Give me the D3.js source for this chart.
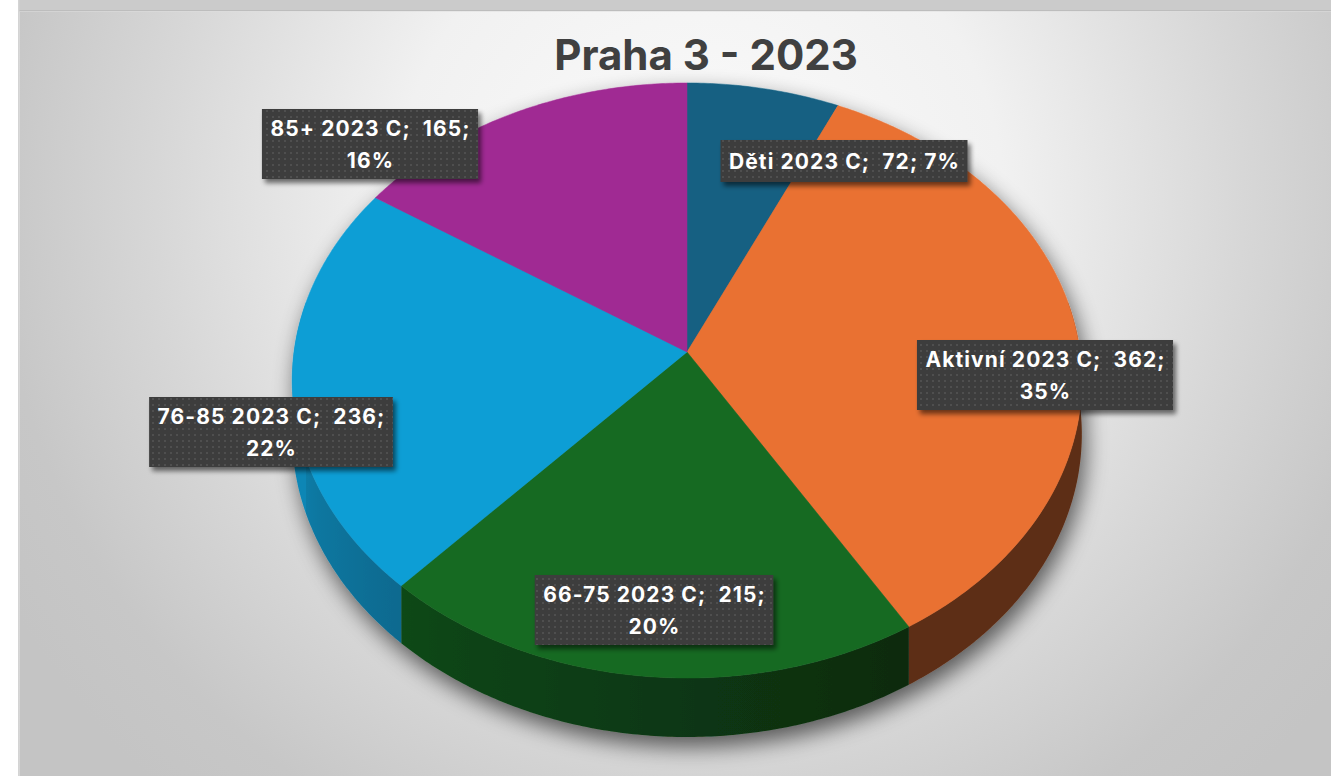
<!DOCTYPE html>
<html>
<head>
<meta charset="utf-8">
<script src="https://cdn.jsdelivr.net/npm/d3@7"></script>
<style>
  html, body { margin: 0; padding: 0; background: #ffffff; }
  svg { display: block; }
  text { font-family: Inter, "Open Sans", "DejaVu Sans", sans-serif; }
</style>
</head>
<body>
<svg id="chart" width="1331" height="776"></svg>
<script>
// Data
const categories = ["Děti 2023 C", "Aktivní 2023 C", "66-75 2023 C", "76-85 2023 C", "85+ 2023 C"];
const values = [72, 362, 215, 236, 165];
const percentLabels = ["7%", "35%", "20%", "22%", "16%"];
const sliceColors = ["#156082", "#E97132", "#196B24", "#0F9ED5", "#A02B93"];
const title = "Praha 3 - 2023";

// Label layout (box centre and number of lines)
const labelLayout = [
  { x: 844, y: 161, lines: 1 },
  { x: 1045, y: 375, lines: 2 },
  { x: 654, y: 610, lines: 2 },
  { x: 271, y: 432, lines: 2 },
  { x: 370, y: 144, lines: 2 }
];

const W = 1331, H = 776;
const svg = d3.select("#chart");
const defs = svg.append("defs");

// Background gradient of the chart area
const bg = defs.append("radialGradient").attr("id", "bgGrad")
  .attr("gradientUnits", "userSpaceOnUse")
  .attr("cx", 700).attr("cy", 200).attr("r", 800);
[[0, "#fbfbfb"], [0.38, "#f1f1f1"], [0.68, "#d7d7d7"], [0.88, "#c7c7c7"], [1, "#c4c4c4"]]
  .forEach(([o, c]) => bg.append("stop").attr("offset", o).attr("stop-color", c));

// Dotted texture for label boxes
const pat = defs.append("pattern").attr("id", "dots")
  .attr("patternUnits", "userSpaceOnUse").attr("width", 6).attr("height", 6);
pat.append("rect").attr("width", 6).attr("height", 6).attr("fill", "#3d3d3d");
pat.append("rect").attr("x", 2).attr("y", 2).attr("width", 2).attr("height", 2).attr("fill", "#4f4f4f");

// Pie shadow
const fShadow = defs.append("filter").attr("id", "pieShadow")
  .attr("x", "-20%").attr("y", "-20%").attr("width", "140%").attr("height", "140%");
fShadow.append("feGaussianBlur").attr("in", "SourceAlpha").attr("stdDeviation", 11).attr("result", "b");
fShadow.append("feOffset").attr("in", "b").attr("dx", 4).attr("dy", 10).attr("result", "o");
fShadow.append("feComponentTransfer").attr("in", "o").attr("result", "s")
  .append("feFuncA").attr("type", "linear").attr("slope", 0.6);
const fm = fShadow.append("feMerge");
fm.append("feMergeNode").attr("in", "s");
fm.append("feMergeNode").attr("in", "SourceGraphic");

// Label box shadow
const fBox = defs.append("filter").attr("id", "boxShadow")
  .attr("x", "-10%").attr("y", "-20%").attr("width", "130%").attr("height", "150%");
fBox.append("feGaussianBlur").attr("in", "SourceAlpha").attr("stdDeviation", 2.5).attr("result", "b");
fBox.append("feOffset").attr("in", "b").attr("dx", 3).attr("dy", 4).attr("result", "o");
fBox.append("feComponentTransfer").attr("in", "o").attr("result", "s")
  .append("feFuncA").attr("type", "linear").attr("slope", 0.55);
const fb = fBox.append("feMerge");
fb.append("feMergeNode").attr("in", "s");
fb.append("feMergeNode").attr("in", "SourceGraphic");

// Frame
svg.append("rect").attr("x", 0).attr("y", 0).attr("width", W).attr("height", H).attr("fill", "#ffffff");
svg.append("rect").attr("x", 18).attr("y", 0).attr("width", W - 18).attr("height", 11).attr("fill", "#cbcbcb");
svg.append("rect").attr("x", 18).attr("y", 10).attr("width", W - 18).attr("height", 1.5).attr("fill", "#bdbdbd");
svg.append("rect").attr("x", 18).attr("y", 0).attr("width", 1.5).attr("height", H).attr("fill", "#d4d4d4");
svg.append("rect").attr("x", 19.5).attr("y", 11.5).attr("width", W - 19.5).attr("height", H - 11.5)
  .attr("fill", "url(#bgGrad)");

// Title
svg.append("text").attr("x", 706).attr("y", 70)
  .attr("text-anchor", "middle").attr("font-size", 42).attr("font-weight", 700)
  .attr("fill", "#404040").text(title);

// Perspective projection of the tilted disk
const cx = 687, cy = 352, B = 393, A = 294.8, k = 0.0958, D = 53.3;
function proj(theta, r, z) {
  const u = r * Math.sin(theta), v = -r * Math.cos(theta);
  const den = 1 - k * v;
  return [cx + B * u / den, cy + (A * v + z * D) / den];
}

const pie = d3.pie().sort(null).value(d => d)(values);
const colorScale = d3.scaleOrdinal().domain(categories).range(sliceColors);

const pieG = svg.append("g").attr("filter", "url(#pieShadow)");

// Side wall shading: lit from the left, darker towards the right
function sideFactor(theta) {
  const deg = theta * 180 / Math.PI;
  if (deg >= 270) return 0.85;
  if (deg <= 150) return 0.40;
  return 0.40 + 0.45 * (deg - 150) / 120;
}
const rad = d => d * Math.PI / 180;
const visLo = rad(80), visHi = rad(280);
const sideG = pieG.append("g");
pie.forEach((p, i) => {
  const a0 = Math.max(p.startAngle, visLo), a1 = Math.min(p.endAngle, visHi);
  if (a1 <= a0) return;
  const n = Math.max(4, Math.ceil((a1 - a0) / 0.01));
  const angs = d3.range(n + 1).map(j => a0 + (a1 - a0) * j / n);
  const topPts = angs.map(a => proj(a, 1, 0));
  const botPts = angs.map(a => proj(a, 1, 1)).reverse();
  const base = d3.rgb(colorScale(categories[i]));
  const shade = a => { const f = sideFactor(a); return d3.rgb(base.r * f, base.g * f, base.b * f).formatHex(); };
  const x0 = proj(a0, 1, 0)[0], x1 = proj(a1, 1, 0)[0];
  const gid = "side" + i;
  const lg = defs.append("linearGradient").attr("id", gid)
    .attr("gradientUnits", "userSpaceOnUse")
    .attr("x1", x0).attr("y1", 0).attr("x2", x1).attr("y2", 0);
  d3.range(9).forEach(j => {
    const a = a0 + (a1 - a0) * j / 8;
    const off = Math.abs(x1 - x0) < 1e-6 ? j / 8 : (proj(a, 1, 0)[0] - x0) / (x1 - x0);
    lg.append("stop").attr("offset", Math.max(0, Math.min(1, off))).attr("stop-color", shade(a));
  });
  sideG.append("path")
    .attr("d", d3.line()(topPts.concat(botPts)) + "Z")
    .attr("fill", `url(#${gid})`);
});

// Top faces
const topLine = d3.line();
pieG.append("g").selectAll("path").data(pie).join("path")
  .attr("d", p => {
    const n = Math.max(4, Math.ceil((p.endAngle - p.startAngle) / 0.01));
    const pts = [[cx, cy]];
    for (let j = 0; j <= n; j++) {
      pts.push(proj(p.startAngle + (p.endAngle - p.startAngle) * j / n, 1, 0));
    }
    return topLine(pts) + "Z";
  })
  .attr("fill", (p, i) => colorScale(categories[i]))
  .attr("stroke", (p, i) => colorScale(categories[i])).attr("stroke-width", 0.5);

// Data labels
const fontSize = 21, lineH = 32, padX = 8;
const labelG = svg.append("g");
pie.forEach((p, i) => {
  const L = labelLayout[i];
  const first = `${categories[i]};  ${values[i]};`;
  const lines = L.lines === 1 ? [`${first} ${percentLabels[i]}`] : [first, percentLabels[i]];
  const g = labelG.append("g");
  const t = g.append("text").attr("text-anchor", "middle")
    .attr("font-size", fontSize).attr("font-weight", 700).attr("fill", "#ffffff")
    .attr("letter-spacing", 1.1)
    .style("white-space", "pre");
  const top = L.y - (lines.length * lineH) / 2;
  lines.forEach((s, j) => {
    t.append("tspan").attr("x", L.x + 0.5).attr("y", top + lineH * j + lineH / 2 + 7.5).text(s);
  });
  const w = d3.max(t.selectAll("tspan").nodes(), n => n.getComputedTextLength());
  const h = lines.length === 1 ? 42 : 70;
  g.insert("rect", "text")
    .attr("x", L.x - w / 2 - padX).attr("y", L.y - h / 2)
    .attr("width", w + 2 * padX).attr("height", h)
    .attr("fill", "url(#dots)").attr("filter", "url(#boxShadow)");
});
</script>
</body>
</html>
